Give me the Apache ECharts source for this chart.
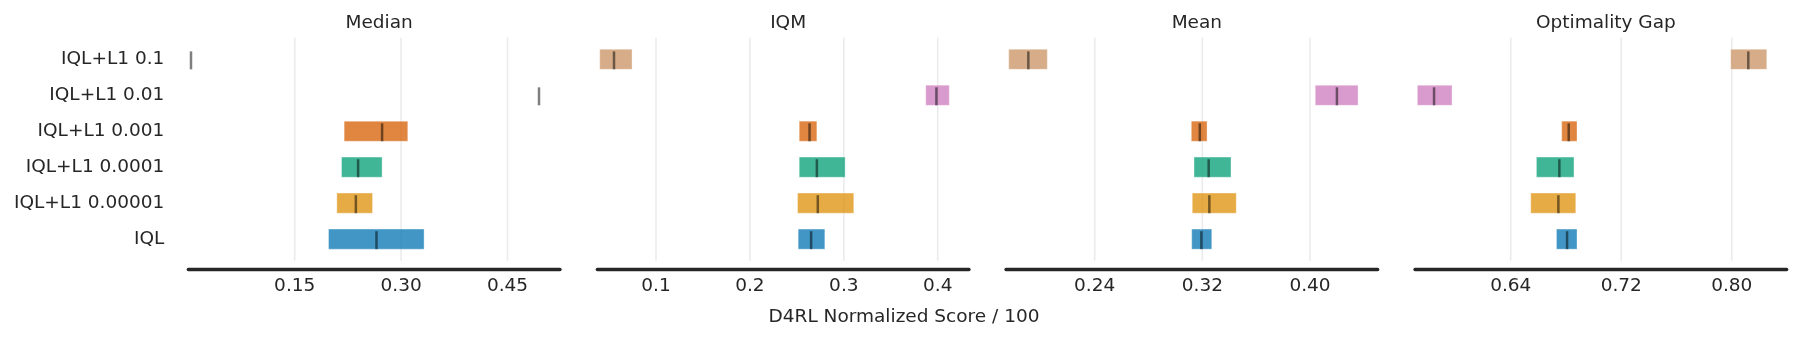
<!DOCTYPE html>
<html>
<head>
<meta charset="utf-8">
<script src="https://cdn.jsdelivr.net/npm/echarts@6/dist/echarts.min.js"></script>
<style>
html,body{margin:0;padding:0;background:#fff;}
#chart{width:1798px;height:338px;}
</style>
</head>
<body>
<div id="chart"></div>
<script>
// ---- data ----
const categories = ['IQL+L1 0.1', 'IQL+L1 0.01', 'IQL+L1 0.001', 'IQL+L1 0.0001', 'IQL+L1 0.00001', 'IQL'];
const metrics = ['Median', 'IQM', 'Mean', 'Optimality Gap'];

const medianLow  = [0.0038, 0.4944, 0.2197, 0.2160, 0.2094, 0.1977];
const medianPt   = [0.0038, 0.4944, 0.2732, 0.2394, 0.2362, 0.2653];
const medianHigh = [0.0038, 0.4944, 0.3094, 0.2732, 0.2597, 0.3324];

const iqmLow  = [0.0401, 0.3872, 0.2525, 0.2525, 0.2507, 0.2514];
const iqmPt   = [0.0553, 0.3986, 0.2635, 0.2713, 0.2723, 0.2652];
const iqmHigh = [0.0745, 0.4123, 0.2713, 0.3014, 0.3106, 0.2798];

const meanLow  = [0.1761, 0.4039, 0.3118, 0.3138, 0.3125, 0.3121];
const meanPt   = [0.1907, 0.4200, 0.3181, 0.3247, 0.3252, 0.3193];
const meanHigh = [0.2048, 0.4357, 0.3235, 0.3413, 0.3452, 0.3270];

const gapLow  = [0.7993, 0.5724, 0.6769, 0.6586, 0.6545, 0.6731];
const gapPt   = [0.8120, 0.5845, 0.6820, 0.6752, 0.6745, 0.6808];
const gapHigh = [0.8254, 0.5975, 0.6880, 0.6858, 0.6871, 0.6880];

const medianTicks = [0.15, 0.30, 0.45];
const iqmTicks    = [0.1, 0.2, 0.3, 0.4];
const meanTicks   = [0.24, 0.32, 0.40];
const gapTicks    = [0.64, 0.72, 0.80];

const xAxisName = 'D4RL Normalized Score / 100';

// ---- styling / layout ----
const palette = ['#ca9161', '#cc78bc', '#d55e00', '#029e73', '#de8f05', '#0173b2'];
const panels = [
  {low: medianLow, pt: medianPt, high: medianHigh, ticks: medianTicks, dec: 2, min: 0.0, max: 0.524, left: 188.3},
  {low: iqmLow, pt: iqmPt, high: iqmHigh, ticks: iqmTicks, dec: 1, min: 0.0375, max: 0.4333, left: 597.3},
  {low: meanLow, pt: meanPt, high: meanHigh, ticks: meanTicks, dec: 2, min: 0.1741, max: 0.4503, left: 1006},
  {low: gapLow, pt: gapPt, high: gapHigh, ticks: gapTicks, dec: 2, min: 0.5707, max: 0.8398, left: 1415}
];
const gridW = 371.7, gridTop = 37.7, gridH = 223;
const Y_MIN = -0.6, Y_MAX = 5.6;
const FONT = 'DejaVu Sans';
const FS = 18.5;
const TXT = '#262626';

function hexA(hex, a) {
  const r = parseInt(hex.slice(1,3),16), g = parseInt(hex.slice(3,5),16), b = parseInt(hex.slice(5,7),16);
  return 'rgba(' + r + ',' + g + ',' + b + ',' + a + ')';
}

const grids = [], xAxes = [], yAxes = [], series = [], titles = [];
panels.forEach((p, i) => {
  grids.push({left: p.left, top: gridTop, width: gridW, height: gridH});
  titles.push({
    text: metrics[i], left: p.left + gridW / 2, top: 9, textAlign: 'center',
    textStyle: {fontFamily: FONT, fontSize: FS, fontWeight: 'normal', color: TXT}
  });
  xAxes.push({
    type: 'value', gridIndex: i, min: p.min, max: p.max, offset: 9, position: 'bottom',
    axisLine: {show: true, onZero: false, lineStyle: {color: TXT, width: 3.3}},
    axisTick: {show: false, customValues: p.ticks},
    axisLabel: {
      customValues: p.ticks, margin: 7,
      formatter: (v) => Number(v).toFixed(p.dec),
      fontFamily: FONT, fontSize: FS, color: TXT
    },
    splitLine: {show: false}
  });
  yAxes.push({
    type: 'value', gridIndex: i, inverse: true, min: Y_MIN, max: Y_MAX,
    axisLine: {show: false}, axisTick: {show: false}, splitLine: {show: false},
    axisLabel: {
      show: i === 0, customValues: [0, 1, 2, 3, 4, 5], margin: 24,
      formatter: (v) => categories[Math.round(v)] || '',
      fontFamily: FONT, fontSize: FS, color: TXT
    }
  });
  // vertical grid lines at the tick values
  series.push({
    type: 'custom', xAxisIndex: i, yAxisIndex: i, silent: true, z: 1,
    data: p.ticks.map(t => [t]),
    encode: {x: 0},
    renderItem: function (params, api) {
      const t = api.value(0);
      const top = api.coord([t, Y_MIN]);
      const bot = api.coord([t, Y_MAX]);
      return {
        type: 'line',
        shape: {x1: top[0], y1: top[1], x2: bot[0], y2: bot[1]},
        style: {stroke: '#ebebeb', lineWidth: 1.6}
      };
    }
  });
  const data = categories.map((c, k) => [p.low[k], p.high[k], p.pt[k], k]);
  series.push({
    type: 'custom', xAxisIndex: i, yAxisIndex: i, data: data, z: 2,
    encode: {x: [0, 1, 2], y: 3},
    renderItem: function (params, api) {
      const k = api.value(3);
      const a = api.coord([api.value(0), k]);
      const b = api.coord([api.value(1), k]);
      const m = api.coord([api.value(2), k]);
      const unit = Math.abs(api.size([0, 1])[1]);
      const col = palette[k];
      return {
        type: 'group',
        children: [
          {
            type: 'rect',
            shape: {x: a[0], y: a[1] - 0.28 * unit, width: Math.max(0, b[0] - a[0]), height: 0.56 * unit},
            style: {fill: hexA(col, 0.75), stroke: 'rgba(255,255,255,0.35)', lineWidth: 1}
          },
          {
            type: 'line',
            shape: {x1: m[0], y1: m[1] - 0.22 * unit, x2: m[0], y2: m[1] + 0.28 * unit},
            style: {stroke: 'rgba(0,0,0,0.5)', lineWidth: 2.5}
          }
        ]
      };
    }
  });
});
titles.push({
  text: xAxisName, left: 899, top: 303, textAlign: 'center',
  textStyle: {fontFamily: FONT, fontSize: FS, fontWeight: 'normal', color: TXT}
});

const chart = echarts.init(document.getElementById('chart'), null, {renderer: 'canvas'});
chart.setOption({
  backgroundColor: '#ffffff',
  animation: false,
  title: titles,
  grid: grids,
  xAxis: xAxes,
  yAxis: yAxes,
  series: series
});
</script>
</body>
</html>
